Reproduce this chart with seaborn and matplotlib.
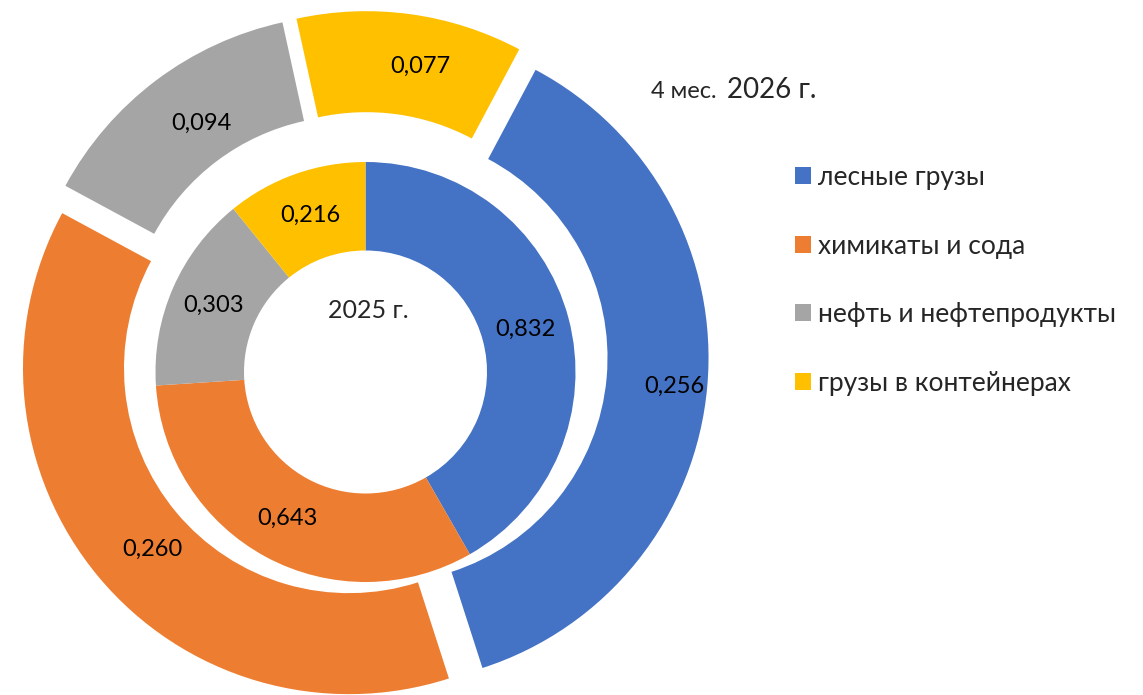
import numpy as np
import seaborn as sns
import matplotlib.pyplot as plt

categories = ["лесные грузы", "химикаты и сода", "нефть и нефтепродукты", "грузы в контейнерах"]
values_2025 = [0.832, 0.643, 0.303, 0.216]
values_2026 = [0.256, 0.260, 0.094, 0.077]
colors = ["#4472C4", "#ED7D31", "#A5A5A5", "#FFC000"]

sns.set_style("white")
plt.rcParams["font.family"] = ["Lato", "DejaVu Sans"]

W, H = 1143, 695
fig = plt.figure(figsize=(W / 100, H / 100), dpi=100)
ax = fig.add_axes([0, 0, 1, 1])


def fmt(vals):
    total = sum(vals)
    return lambda pct: f"{pct * total / 100:.3f}".replace(".", ",")


# inner ring: 2025
inner_c = (365.5, H - 372)
w_in, t_in, a_in = ax.pie(values_2025, colors=colors, radius=210, center=inner_c,
                          startangle=90, counterclock=False,
                          wedgeprops=dict(width=88.5, linewidth=0),
                          autopct=fmt(values_2025), pctdistance=0.79,
                          textprops=dict(fontsize=17, color="black"))

# outer ring: 4 months 2026, exploded
outer_c = (363.6, H - 356)
w_out, t_out, a_out = ax.pie(values_2026, colors=colors, radius=326, center=outer_c,
                             startangle=62, counterclock=False, explode=[19] * 4,
                             wedgeprops=dict(width=101, linewidth=0),
                             autopct=fmt(values_2026), pctdistance=0.85,
                             textprops=dict(fontsize=17, color="black"))
# excel puts these labels a bit right/down of the ring middle
for t in a_out:
    x, y = t.get_position()
    t.set_position((x + 16, y - 4))

ax.text(inner_c[0] + 3, H - 311, "2025 г.", ha="center", va="center", fontsize=18)
ax.text(651, H - 98, "4 мес.", ha="left", va="baseline", fontsize=17)
ax.text(727, H - 98, "2026 г.", ha="left", va="baseline", fontsize=20)

ax.legend(w_in, categories, loc="upper left", bbox_to_anchor=(795 / W, 1 - 165 / H),
          bbox_transform=fig.transFigure, frameon=False, fontsize=19,
          handlelength=0.6, handleheight=0.6, handletextpad=0.28,
          labelspacing=1.65, borderpad=0, borderaxespad=0)

ax.set_xlim(0, W)
ax.set_ylim(0, H)
ax.set_aspect("equal")
ax.axis("off")

fig.savefig("out.png", dpi=100)
